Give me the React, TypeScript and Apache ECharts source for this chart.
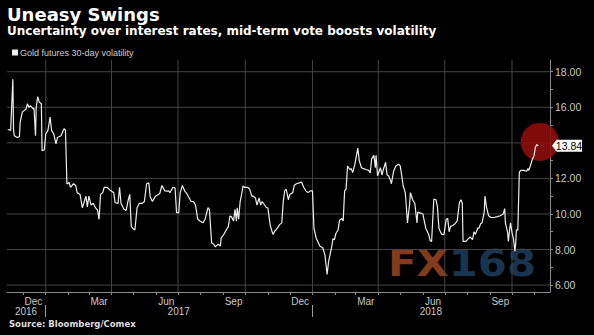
import React, { useEffect, useRef } from "react";
import * as echarts from "echarts";

const dates: string[] = [
  "2016-11-10","2016-11-14","2016-11-17","2016-11-18","2016-11-19","2016-11-23","2016-11-26","2016-11-27","2016-11-30",
  "2016-12-05","2016-12-07","2016-12-09","2016-12-11","2016-12-15","2016-12-16","2016-12-18","2016-12-19","2016-12-21",
  "2016-12-23","2016-12-26","2016-12-27","2016-12-30",
  "2017-01-01","2017-01-04","2017-01-07","2017-01-09","2017-01-12","2017-01-15","2017-01-17","2017-01-22","2017-01-24",
  "2017-01-26","2017-01-28","2017-01-30","2017-02-02","2017-02-04","2017-02-08","2017-02-11","2017-02-13","2017-02-17",
  "2017-02-20","2017-02-22","2017-02-25","2017-02-27","2017-03-01","2017-03-04","2017-03-07","2017-03-10","2017-03-13",
  "2017-03-15","2017-03-17","2017-03-20","2017-03-22","2017-03-26","2017-03-31","2017-04-04","2017-04-06","2017-04-10",
  "2017-04-12","2017-04-14","2017-04-18","2017-04-21","2017-04-24","2017-04-26","2017-04-28","2017-04-30","2017-05-03",
  "2017-05-06","2017-05-09","2017-05-13","2017-05-16","2017-05-19","2017-05-22","2017-05-24","2017-05-27","2017-05-31",
  "2017-06-04","2017-06-06","2017-06-09","2017-06-13","2017-06-16","2017-06-18","2017-06-20","2017-06-24","2017-06-27",
  "2017-06-29","2017-07-02","2017-07-04","2017-07-07","2017-07-10","2017-07-13","2017-07-15","2017-07-19","2017-07-22",
  "2017-07-25","2017-07-28","2017-07-31","2017-08-04","2017-08-07","2017-08-11","2017-08-13","2017-08-16","2017-08-19",
  "2017-08-21","2017-08-25","2017-08-28","2017-08-29","2017-09-01","2017-09-04","2017-09-08","2017-09-10","2017-09-12",
  "2017-09-15","2017-09-17","2017-09-19","2017-09-20","2017-09-22","2017-09-24","2017-09-26","2017-09-28","2017-09-30",
  "2017-10-04","2017-10-07","2017-10-10","2017-10-12","2017-10-15","2017-10-17","2017-10-20","2017-10-22","2017-10-24",
  "2017-10-26","2017-10-30","2017-11-01","2017-11-04","2017-11-06","2017-11-08","2017-11-10","2017-11-14","2017-11-17",
  "2017-11-20","2017-11-22","2017-11-24","2017-11-26","2017-11-29","2017-12-01","2017-12-05","2017-12-07","2017-12-10",
  "2017-12-14","2017-12-17","2017-12-20","2017-12-23","2017-12-26","2017-12-29",
  "2018-01-01","2018-01-03","2018-01-06","2018-01-11","2018-01-15","2018-01-18","2018-01-21","2018-01-23","2018-01-27",
  "2018-01-29","2018-01-31","2018-02-02","2018-02-05","2018-02-07","2018-02-10","2018-02-12","2018-02-14","2018-02-16",
  "2018-02-18","2018-02-21","2018-02-23","2018-02-25","2018-02-28","2018-03-04","2018-03-06","2018-03-09","2018-03-12",
  "2018-03-15","2018-03-19","2018-03-21","2018-03-23","2018-03-26","2018-03-28","2018-03-29","2018-03-31","2018-04-04",
  "2018-04-06","2018-04-08","2018-04-11","2018-04-13","2018-04-15","2018-04-18","2018-04-19","2018-04-22","2018-04-25",
  "2018-04-29","2018-05-01","2018-05-03","2018-05-05","2018-05-08","2018-05-09","2018-05-11","2018-05-14","2018-05-15",
  "2018-05-18","2018-05-21","2018-05-24","2018-05-25","2018-05-29","2018-06-01","2018-06-03","2018-06-05","2018-06-09",
  "2018-06-11","2018-06-13","2018-06-16","2018-06-19","2018-06-21","2018-06-23","2018-06-25","2018-06-27","2018-06-30",
  "2018-07-03","2018-07-05","2018-07-07","2018-07-09","2018-07-12","2018-07-15","2018-07-18","2018-07-21","2018-07-23",
  "2018-07-25","2018-07-26","2018-07-30","2018-08-02","2018-08-05","2018-08-08","2018-08-10","2018-08-12","2018-08-15",
  "2018-08-17","2018-08-19","2018-08-21","2018-08-24","2018-08-25","2018-08-27","2018-08-30","2018-09-02","2018-09-06",
  "2018-09-11","2018-09-15","2018-09-19","2018-09-21","2018-09-22","2018-09-25","2018-09-26","2018-09-28","2018-09-29",
  "2018-10-01","2018-10-03","2018-10-05","2018-10-06","2018-10-07","2018-10-09","2018-10-11","2018-10-13","2018-10-17",
  "2018-10-21","2018-10-23","2018-10-24","2018-10-26","2018-10-29","2018-10-31","2018-11-02","2018-11-04","2018-11-06",
];

const volatility: number[] = [
  14.75,14.7,17.57,14.7,14.4,14.3,14.35,15.17,15.73,
  15.9,16.2,16.0,16.1,15.9,15.95,14.4,16.0,16.6,
  16.3,16.2,13.56,13.6,
  14.5,14.7,15.45,14.7,14.5,13.94,14.3,14.4,14.6,
  14.8,14.7,11.68,11.77,11.5,11.7,11.6,11.2,11.1,
  10.35,10.6,11.0,10.4,11.0,10.5,10.6,10.35,10.2,
  9.7,11.1,11.2,11.5,11.5,11.3,11.2,10.63,10.6,
  11.5,10.6,10.26,10.2,10.8,11.1,9.3,9.2,9.1,
  10.35,10.6,10.6,10.7,11.7,11.75,10.96,10.7,11.0,
  11.1,11.15,11.6,11.3,11.28,11.3,11.2,11.5,11.45,
  10.07,10.07,11.2,11.6,11.3,11.15,11.0,10.7,10.7,
  10.5,9.7,9.6,9.5,9.7,10.35,10.25,8.37,8.3,
  8.15,8.3,8.2,8.65,8.8,9.03,9.3,9.88,9.85,
  9.6,10.26,9.6,10.35,9.7,10.7,11.1,11.58,11.5,
  11.5,11.4,11.0,11.0,10.9,10.5,10.9,10.5,10.7,
  10.6,10.35,10.35,9.4,9.1,8.85,9.0,9.2,9.4,
  9.5,10.7,11.3,11.4,10.8,11.1,11.2,11.6,11.7,
  11.75,11.8,11.5,11.3,11.2,11.3,
  11.3,9.2,8.65,8.2,8.1,7.7,6.6,7.3,8.1,
  8.6,8.55,8.9,9.1,9.64,9.75,9.6,11.3,11.4,
  12.7,12.5,12.55,12.33,12.8,13.7,13.0,12.6,12.55,
  12.5,12.45,12.3,13.1,13.3,12.6,13.3,12.15,12.6,
  12.2,12.5,12.9,12.2,12.15,11.86,11.7,12.4,12.7,
  12.8,12.7,12.2,11.6,11.2,10.66,9.5,10.6,11.2,
  10.8,10.6,9.5,10.1,10.05,10.0,9.6,9.2,8.85,
  8.5,8.45,10.83,10.8,10.4,9.2,9.0,8.85,8.85,
  9.7,9.75,9.0,9.3,9.35,9.45,9.6,10.63,10.8,
  10.6,8.46,8.46,8.6,8.7,8.55,9.0,8.85,9.2,
  9.2,9.45,9.5,10.1,11.0,10.4,9.9,9.8,9.8,
  9.85,9.9,10.0,10.3,9.5,8.95,8.46,9.2,9.5,
  8.95,8.6,7.9,8.3,9.1,9.1,12.35,12.45,12.45,
  12.4,12.55,12.45,12.7,13.1,13.25,13.75,13.9,13.84,
];

const seriesName = "Gold futures 30-day volatility";
const xMin = "2016-11-09";
const xMax = "2018-11-22";
const yMin = 5.61;
const yMax = 18.66;
const monthStarts = [
  "2016-12-01","2017-01-01","2017-02-01","2017-03-01","2017-04-01","2017-05-01","2017-06-01","2017-07-01",
  "2017-08-01","2017-09-01","2017-10-01","2017-11-01","2017-12-01","2018-01-01","2018-02-01","2018-03-01",
  "2018-04-01","2018-05-01","2018-06-01","2018-07-01","2018-08-01","2018-09-01","2018-10-01","2018-11-01",
];
const monthLabelDates = ["2016-12-15","2017-03-15","2017-06-15","2017-09-15","2017-12-15","2018-03-15","2018-06-15","2018-09-15"];
const monthNames = ["Jan","Feb","Mar","Apr","May","Jun","Jul","Aug","Sep","Oct","Nov","Dec"];
const yearLabelDates = ["2016-12-05","2017-07-02","2018-06-12"];
const yearBoundaries = ["2017-01-01","2018-01-01"];
const quarterStarts = ["2017-01-01","2017-04-01","2017-07-01","2017-10-01","2018-01-01","2018-04-01","2018-07-01","2018-10-01"];
const yTickValues = [6,7,8,9,10,11,12,13,14,15,16,17,18];
const yGridValues = [6,8,10,12,14,16,18];
const yLabelValues = [6,8,10,12,16,18];
const lastValue = 13.84;
const highlightPoint: [string, number] = ["2018-11-08", 14.05];

const ts = (s: string) => {
  const [y, m, d] = s.split("-").map(Number);
  return new Date(y, m - 1, d).getTime();
};

const GRID = "#444444";
const LABEL = "#c8c8c8";
const AXIS = "#8a8a8a";

export default function App() {
  const ref = useRef<HTMLDivElement>(null);
  useEffect(() => {
    if (!ref.current) return;
    const chart = echarts.init(ref.current, null, { renderer: "svg" });
    const lineData = dates.map((d, i) => [ts(d), volatility[i]]);
    const x0 = ts(xMin);
    const x1 = ts(xMax);
    const gridSeg = (name: string, data: number[][]) => ({
      name,
      type: "line",
      data,
      silent: true,
      symbol: "none",
      showSymbol: false,
      clip: false,
      z: 1,
      lineStyle: { color: GRID, type: "solid", width: 1, opacity: 1 },
      itemStyle: { color: GRID },
    });
    const gridSeries = [
      ...yGridValues.map((v) => gridSeg("h" + v, [[x0, v], [x1, v]])),
      ...quarterStarts.map((d) => gridSeg("v" + d, [[ts(d), yMin], [ts(d), yMax]])),
    ];
    chart.setOption({
      animation: false,
      backgroundColor: "#000",
      title: [
        {
          text: "Uneasy Swings",
          subtext: "Uncertainty over interest rates, mid-term vote boosts volatility",
          left: 7,
          top: 5,
          padding: 0,
          itemGap: 2,
          textStyle: { color: "#fff", fontSize: 18, fontWeight: "bold", fontFamily: "DejaVu Sans" },
          subtextStyle: { color: "#fff", fontSize: 12, fontWeight: "bold", fontFamily: "DejaVu Sans" },
        },
        {
          text: "Source: Bloomberg/Comex",
          left: 9,
          top: 319,
          padding: 0,
          textStyle: { color: "#ddd", fontSize: 8.5, fontWeight: "bold", fontFamily: "DejaVu Sans" },
        },
      ],
      legend: {
        data: [seriesName],
        left: 12,
        top: 48,
        padding: 0,
        icon: "rect",
        itemWidth: 6,
        itemHeight: 6,
        itemGap: 4,
        textStyle: { color: "#ccc", fontSize: 9, fontFamily: "Liberation Sans", padding: [0, 0, 0, -3] },
      },
      grid: { left: 7, right: 44, top: 60, bottom: 43, containLabel: false },
      xAxis: [
        {
          type: "value",
          min: x0,
          max: x1,
          axisLine: { show: true, lineStyle: { color: AXIS, width: 1 } },
          axisTick: { show: true, customValues: monthStarts.map(ts), length: 3, lineStyle: { color: AXIS } },
          axisLabel: {
            show: true,
            customValues: monthLabelDates.map(ts),
            formatter: (v: number) => monthNames[new Date(v).getMonth()],
            color: LABEL,
            fontSize: 10,
            fontFamily: "Liberation Sans",
            margin: 4,
          },
          splitLine: { show: false },
        },
        {
          type: "value",
          min: x0,
          max: x1,
          position: "bottom",
          offset: 13,
          axisLine: { show: false },
          axisTick: { show: true, customValues: yearBoundaries.map(ts), length: 12, lineStyle: { color: "#9a9a9a" } },
          axisLabel: {
            show: true,
            customValues: yearLabelDates.map(ts),
            formatter: (v: number) => String(new Date(v).getFullYear()),
            color: LABEL,
            fontSize: 10,
            fontFamily: "Liberation Sans",
            margin: 1,
          },
          splitLine: { show: false },
        },
      ],
      yAxis: {
        type: "value",
        position: "right",
        min: yMin,
        max: yMax,
        axisLine: { show: true, lineStyle: { color: AXIS, width: 1 } },
        axisTick: { show: true, customValues: yTickValues, length: 3, lineStyle: { color: AXIS } },
        axisLabel: {
          show: true,
          customValues: yLabelValues,
          formatter: (v: number) => v.toFixed(2),
          color: LABEL,
          fontSize: 10.5,
          fontFamily: "Liberation Sans",
          margin: 5,
        },
        splitLine: { show: false },
      },
      graphic: [
        {
          type: "text",
          x: 388,
          y: 244,
          scaleX: 1.13,
          silent: true,
          z: 1,
          style: {
            text: "{a|FX}{b|168}",
            font: "bold 37px 'DejaVu Sans'",
            rich: {
              a: { fill: "#843a1c", font: "bold 37px 'DejaVu Sans'" },
              b: { fill: "#19344f", font: "bold 37px 'DejaVu Sans'" },
            },
          },
        },
      ],
      series: [
        ...gridSeries,
        {
          type: "scatter",
          data: [[ts(highlightPoint[0]), highlightPoint[1]]],
          symbolSize: 38,
          silent: true,
          z: 2,
          clip: true,
          itemStyle: { color: "#8e0c0c", opacity: 0.9 },
        },
        {
          name: seriesName,
          type: "line",
          data: lineData,
          showSymbol: false,
          symbol: "none",
          z: 3,
          lineStyle: { color: "#eeeeee", width: 1.2 },
          itemStyle: { color: "#eeeeee" },
          markPoint: {
            silent: true,
            symbol: "path://M0,5.5L5,0L32,0L32,11L5,11Z",
            symbolSize: [30, 12],
            symbolOffset: [17, 0],
            itemStyle: { color: "#ffffff" },
            label: {
              show: true,
              position: "inside",
              offset: [2, 0],
              color: "#000",
              fontSize: 10.5,
              fontFamily: "Liberation Sans",
              formatter: lastValue.toFixed(2),
            },
            data: [{ coord: [x1, lastValue], value: lastValue }],
          },
        },
      ],
    });
    return () => chart.dispose();
  }, []);
  return (
    <div
      ref={ref}
      style={{ position: "fixed", left: 0, top: 0, width: 594, height: 335 }}
    />
  );
}
